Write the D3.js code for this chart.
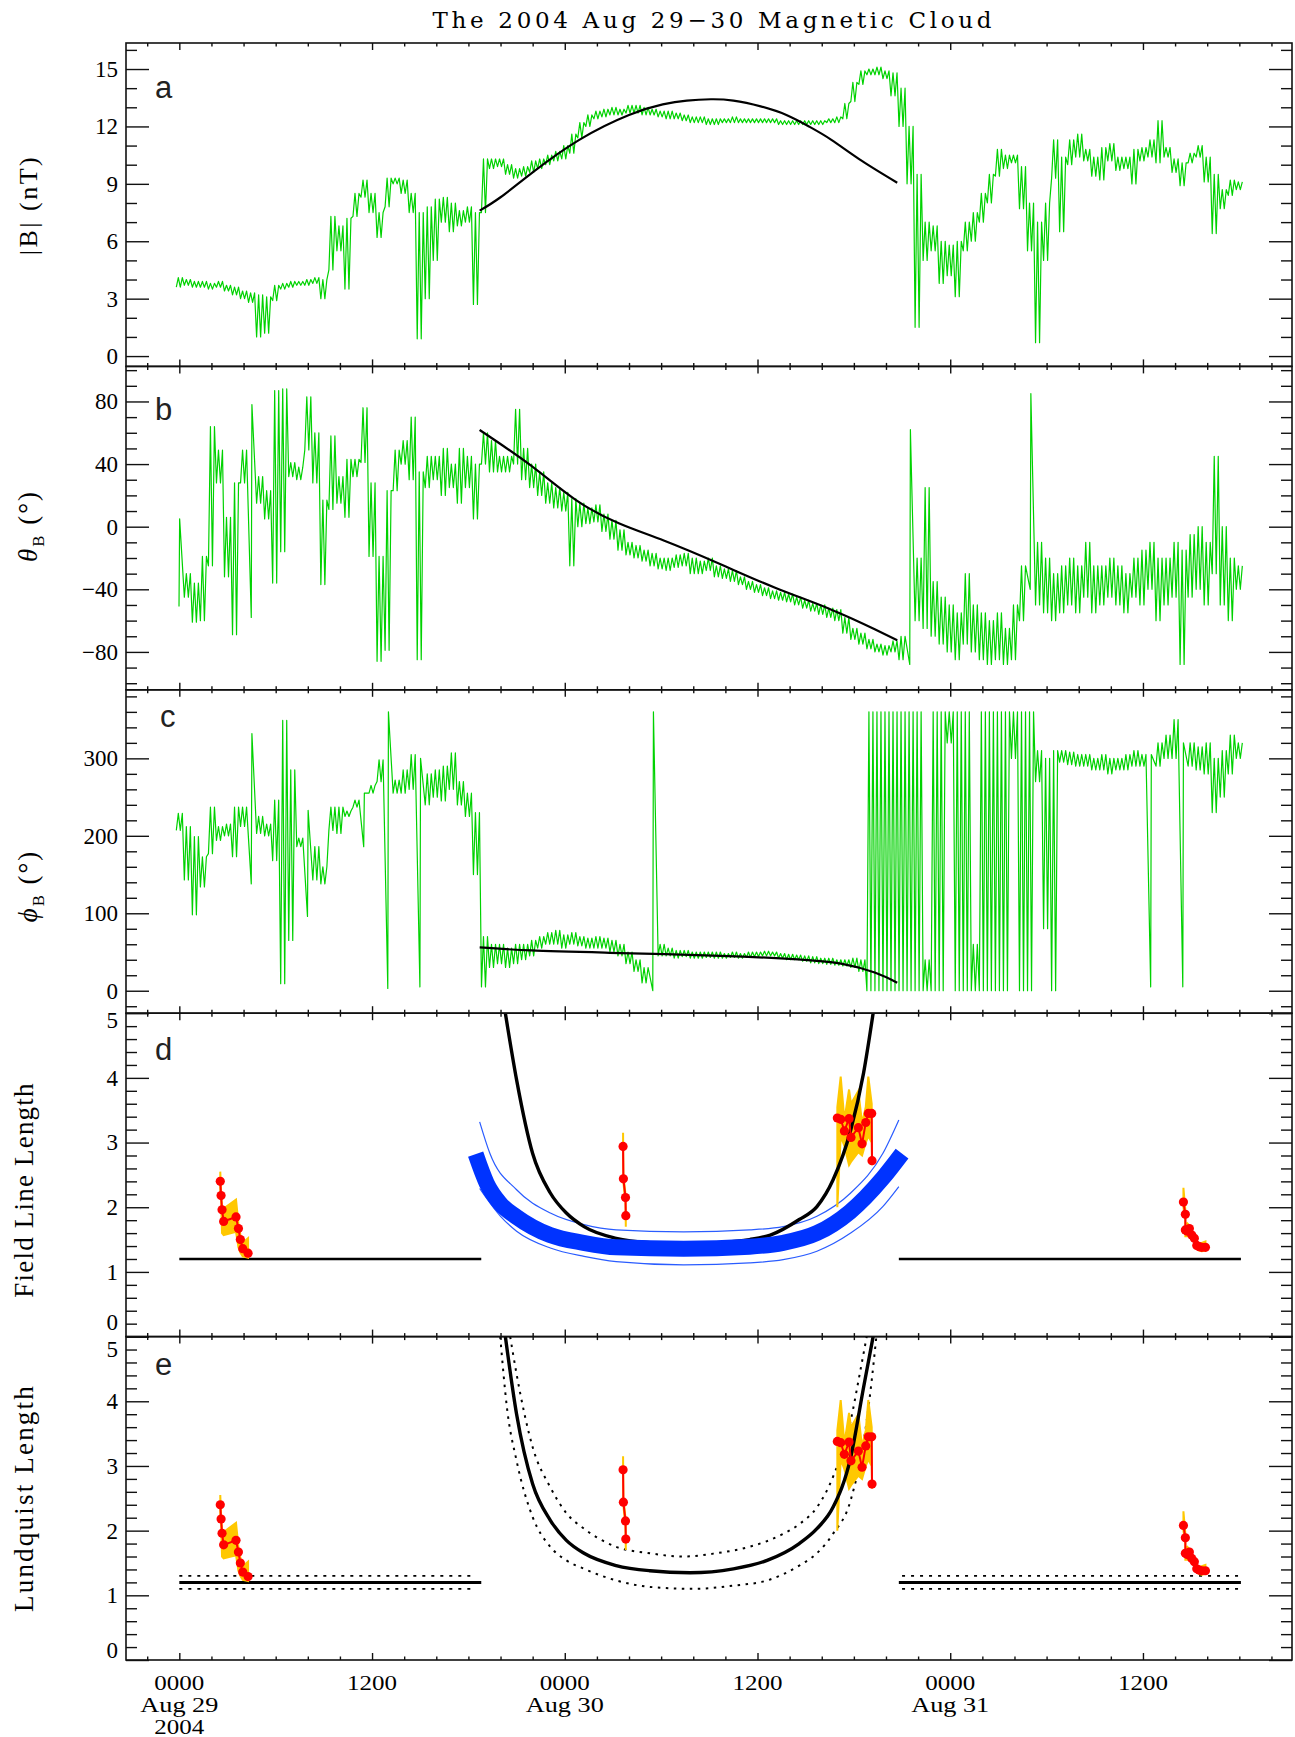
<!DOCTYPE html>
<html><head><meta charset="utf-8">
<script src="https://cdn.jsdelivr.net/npm/d3@7"></script>
<style>body{margin:0;background:#fff}svg{display:block}</style>
</head><body>
<svg id="c" width="1295" height="1737"></svg>
<script>
// ---------------- DATA ----------------
// time axis: hours from 2004 Aug 29 00:00 UT; green traces binned every 0.5 h (min / max in each bin)
const T0 = 0, STEP = 0.5;
const bLo = [3.6,3.7,3.6,3.6,3.5,3.6,3.4,3.2,3.0,2.8,
 1.0,1.2,2.9,3.5,3.6,3.7,3.7,3.8,3.0,4.5,
 5.5,3.5,7.3,8.3,7.5,6.2,7.8,9.0,8.5,7.5,
 0.9,3.0,5.0,7.0,6.5,6.8,7.0,2.7,7.5,9.8,
 9.9,9.5,9.3,9.4,9.6,9.8,10.0,10.2,10.3,10.6,
 11.4,12.0,12.4,12.5,12.6,12.6,12.7,12.7,12.6,12.6,
 12.5,12.4,12.4,12.3,12.2,12.2,12.1,12.1,12.2,12.2,
 12.2,12.2,12.2,12.2,12.2,12.1,12.1,12.1,12.1,12.1,
 12.1,12.2,12.2,12.4,13.3,14.2,14.7,14.7,14.5,13.6,
 12.0,9.0,1.5,5.0,5.5,3.8,4.2,3.1,5.5,6.0,
 7.0,8.0,9.4,9.8,10.1,7.7,5.5,0.7,5.0,9.3,
 6.5,10.0,10.4,10.2,9.4,9.2,10.2,9.7,9.8,9.0,
 10.2,10.4,10.1,10.4,9.6,8.9,10.1,10.4,9.1,6.4,
 7.7,8.4,8.7];
const bHi = [4.1,4.0,3.9,3.9,3.8,3.9,3.7,3.6,3.4,3.3,
 3.2,3.1,3.7,3.8,3.9,3.9,4.0,4.1,4.0,7.3,
 6.8,7.2,8.5,9.2,8.5,7.5,9.3,9.3,9.2,8.5,
 7.5,7.8,8.2,8.3,8.0,7.6,7.8,7.5,10.3,10.3,
 10.3,10.0,9.8,9.9,10.2,10.3,10.5,10.7,11.0,11.6,
 12.2,12.6,12.8,12.9,13.0,12.9,13.1,13.1,13.0,12.9,
 12.8,12.8,12.7,12.6,12.5,12.5,12.4,12.4,12.4,12.5,
 12.4,12.4,12.4,12.4,12.4,12.3,12.3,12.3,12.3,12.3,
 12.3,12.4,12.5,13.2,14.3,14.9,15.0,15.1,14.9,14.8,
 14.0,12.0,9.5,7.0,6.8,6.0,5.8,6.0,7.0,7.5,
 8.5,9.5,10.8,10.5,10.5,9.9,8.0,7.0,8.0,11.3,
 10.4,11.3,11.6,10.8,10.4,10.9,11.1,10.4,10.4,10.8,
 10.9,11.3,12.3,10.9,10.3,10.1,10.6,11.0,10.4,9.5,
 8.7,9.2,9.1];
const thLo = [-51,-45,-61,-60,-25,28,-32,-69,28,-58,
 15,5,-36,-16,32,30,49,28,-37,11,
 15,6,32,41,-19,-86,-79,23,40,30,
 -85,25,30,20,25,15,25,5,40,35,
 35,35,40,30,25,20,15,12,10,-25,
 0,2,3,-3,-8,-15,-18,-20,-22,-25,
 -27,-28,-26,-25,-30,-30,-28,-32,-33,-35,
 -37,-40,-42,-44,-46,-47,-48,-50,-52,-54,
 -56,-58,-60,-68,-72,-75,-78,-80,-82,-80,
 -85,-88,-60,-65,-70,-75,-80,-85,-75,-80,
 -85,-88,-85,-88,-85,-60,-40,-50,-55,-60,
 -55,-50,-55,-45,-55,-50,-45,-50,-55,-45,
 -50,-40,-60,-50,-45,-88,-45,-40,-50,-30,
 -50,-60,-40];
const thHi = [5,-30,-36,-19,64,49,6,28,49,78,
 32,23,87,88,41,38,83,60,17,58,
 32,43,43,76,28,-19,23,49,55,70,
 35,45,45,50,40,50,45,40,60,55,
 45,45,75,50,40,35,28,25,22,18,
 15,12,14,8,4,-2,-10,-12,-15,-17,
 -20,-20,-18,-17,-20,-22,-20,-25,-27,-28,
 -32,-35,-37,-39,-41,-42,-43,-45,-47,-49,
 -50,-52,-53,-58,-65,-68,-72,-75,-76,-73,
 -70,62,-20,25,-35,-45,-50,-55,-30,-50,
 -55,-60,-55,-65,-50,-25,85,-10,-20,-30,
 -25,-20,-25,-10,-25,-25,-20,-25,-30,-20,
 -15,-10,-20,-20,-10,-15,-5,0,-10,45,
 0,-20,-25];
const phLo = [207,143,98,134,177,194,200,173,212,138,
 203,200,168,9,65,186,96,143,138,207,
 203,225,237,186,255,270,3,255,255,260,
 5,240,250,245,260,240,225,150,5,30,
 35,30,35,40,45,55,60,60,55,60,
 58,55,55,55,50,45,35,25,10,0,
 45,45,42,44,42,42,43,42,42,43,
 42,43,44,45,45,42,40,40,38,36,
 35,34,33,32,30,25,0,0,0,0,
 0,0,0,0,0,0,320,0,0,0,
 0,0,0,0,300,0,0,270,80,0,
 295,292,290,290,285,285,280,285,285,290,
 290,5,290,300,300,5,290,285,280,230,
 250,280,300];
const phHi = [229,212,199,173,237,212,215,237,237,332,
 225,215,246,349,285,197,233,186,160,237,
 237,232,246,255,265,298,360,272,285,305,
 300,280,285,290,307,270,255,230,70,60,
 60,55,60,60,65,70,75,78,72,75,
 70,68,70,68,65,60,50,40,30,360,
 60,55,52,52,50,50,50,50,48,50,
 48,50,50,51,50,48,47,46,45,44,
 42,42,40,40,42,40,360,360,360,360,
 360,360,360,40,360,360,360,360,360,60,
 360,360,360,360,360,360,360,310,300,310,
 310,308,305,305,300,305,300,300,305,310,
 305,305,320,330,350,320,320,315,320,300,
 310,330,320];

// model fits inside the magnetic cloud
const fitBT = [18.7,20.0,22.0,24.9,28.0,30.1,31.6,33.1,34.5,36.2,37.8,39.2,40.6,42.5,44.7];
const fitBV = [7.6,8.3,9.6,11.3,12.6,13.15,13.35,13.42,13.35,13.05,12.6,12.0,11.3,10.2,9.06];
const fitThT = [18.7,21.9,24.7,27.4,30.2,33.7,37.1,40.6,43.3,44.7];
const fitThV = [61.8,39,17,2,-9,-24,-39,-53,-65.5,-72.6];
const fitPhT = [18.7,21.9,26.8,33.7,38.5,41.2,43.3,44.7];
const fitPhV = [56,52,49,45,40.6,35,23.5,10.4];

// field line length model (panel d)
const dCurveT = [20.3,21.0,22.0,23.1,24.1,25.2,27.2,29.3,31.5,33.5,35.5,36.8,38.6,39.7,40.7,41.8,42.6,43.2];
const dCurveV = [5.0,3.97,2.83,2.22,1.91,1.70,1.52,1.45,1.43,1.45,1.50,1.57,1.81,2.01,2.42,3.19,4.07,5.0];
const bandT = [18.45,19.14,19.97,21.0,23.08,25.16,27.2,31.4,35.5,37.6,39.7,41.76,43.8,45.0];
const bandV = [2.82,2.37,2.06,1.85,1.57,1.45,1.38,1.36,1.39,1.45,1.60,1.93,2.45,2.83];
const bandUpT = [18.7,19.34,21.0,23.1,25.2,27.2,31.4,35.5,37.6,39.7,41.8,43.8,44.8];
const bandUpV = [3.32,2.83,2.27,1.91,1.73,1.65,1.62,1.65,1.70,1.86,2.22,2.83,3.35];
const bandLoT = [18.7,20.0,21.0,23.1,25.2,27.2,31.4,35.5,37.6,39.7,41.8,43.8,44.8];
const bandLoV = [2.29,1.86,1.63,1.37,1.24,1.16,1.11,1.14,1.19,1.32,1.60,2.01,2.32];

// Lundquist length model (panel e)
const eCurveT = [20.3,21.0,22.0,23.1,24.1,25.2,27.2,29.3,31.8,34.5,36.6,38.6,39.7,40.7,41.8,42.6,43.2];
const eCurveV = [5.0,3.80,2.72,2.16,1.85,1.65,1.46,1.38,1.35,1.41,1.54,1.80,2.03,2.36,3.13,4.21,5.0];
const eInT = [20.6,21.0,22.0,23.1,24.1,25.2,27.2,29.3,31.4,33.4,35.5,37.6,38.6,39.7,40.7,41.8,42.4,42.8];
const eInV = [5.0,4.42,3.29,2.67,2.27,2.03,1.75,1.65,1.60,1.65,1.75,1.95,2.1,2.36,2.83,3.70,4.47,5.0];
const eOutT = [19.98,20.4,21.0,22.0,23.1,24.1,25.2,27.2,29.3,32.0,34.5,36.6,38.6,39.7,40.7,41.8,42.8,43.1,43.4];
const eOutV = [5.0,3.9,3.08,2.21,1.75,1.54,1.41,1.23,1.13,1.10,1.15,1.23,1.46,1.65,1.95,2.47,3.70,4.3,5.0];

// flat reference levels outside the cloud
const flatSegs = [[0,18.8],[44.8,66.1]];
const flatDotSegs = [[0,18.4],[45.0,66.0]];
const flatLevel = 1.2, flatUp = 1.3, flatDn = 1.1;

// measured lengths (red points) with uncertainty band (orange)
const clusters = [
 {t:[2.55,2.60,2.66,2.76,3.53,3.68,3.80,3.95,4.28],
  v:[2.40,2.18,1.96,1.78,1.85,1.67,1.50,1.36,1.29],
  up:[2.55,2.25,2.0,1.98,2.12,1.75,1.58,1.45,1.52],
  lo:[2.25,2.10,1.6,1.57,1.62,1.38,1.30,1.24,1.22]},
 {t:[27.63,27.65,27.78,27.80],
  v:[2.94,2.44,2.15,1.87],
  up:[3.15,2.5,2.2,1.92],
  lo:[2.85,2.38,2.08,1.70]},
 {t:[40.97,41.18,41.41,41.70,41.82,42.28,42.51,42.74,42.90,43.11,43.13],
  v:[3.38,3.36,3.18,3.37,3.08,3.23,2.98,3.31,3.45,3.45,2.72],
  up:[3.55,4.02,3.35,3.82,3.6,3.8,3.3,3.55,4.02,3.6,2.8],
  lo:[2.0,3.1,2.95,2.65,2.7,2.85,2.8,3.0,3.1,3.0,2.65]},
 {t:[62.52,62.64,62.64,62.76,62.89,63.04,63.2,63.35,63.5,63.66,63.89],
  v:[2.08,1.89,1.65,1.63,1.67,1.57,1.52,1.41,1.39,1.38,1.38],
  up:[2.3,1.95,1.7,1.75,1.72,1.62,1.57,1.46,1.43,1.45,1.47],
  lo:[2.0,1.8,1.55,1.55,1.6,1.5,1.47,1.36,1.33,1.32,1.33]}
];

// ticks
const xMajor = [0,12,24,36,48,60];
const xMinorStep = 2;
const xLab1 = ["0000","1200","0000","1200","0000","1200"];
const xLab2 = ["Aug 29","","Aug 30","","Aug 31",""];
const xLab3 = ["2004","","","","",""];
const aTicks = [0,3,6,9,12,15];
const bTicks = [-80,-40,0,40,80];
const cTicks = [0,100,200,300];
const dTicks = [0,1,2,3,4,5];
const eTicks = [0,1,2,3,4,5];

// ---------------- DRAWING ----------------
const SERIF = "'Liberation Serif','DejaVu Serif',serif";
const SANS = "'Liberation Sans',Arial,sans-serif";
const GREEN = "#00d200";
const svg = d3.select('#c');
const L = 126, R = 1292;
const x = d3.scaleLinear().domain([-3.32, 69.28]).range([L, R]);

const panels = [
 {id:'a', top:43, bot:366.4, dom:[-0.54,16.36], ticks:aTicks, minor:1, lx:155, ly:97.7, dTop:'0.62em', dBot:'-0.12em'},
 {id:'b', top:366.4, bot:689.8, dom:[-104.2,102.4], ticks:bTicks, minor:10, lx:155, ly:420, dTop:'0.62em', dBot:'-0.12em'},
 {id:'c', top:689.8, bot:1013.2, dom:[-29,388.5], ticks:cTicks, minor:20, lx:160, ly:726.7, dTop:'0.62em', dBot:'-0.12em'},
 {id:'d', top:1013.2, bot:1336.6, dom:[0,5], ticks:dTicks, minor:0.2, lx:155, ly:1060, dTop:'0.62em', dBot:'-0.32em'},
 {id:'e', top:1336.6, bot:1660, dom:[0,5], ticks:eTicks, minor:0.2, lx:155, ly:1375, dTop:'0.86em', dBot:'-0.12em'}
];
const defs = svg.append('defs');
panels.forEach(p => {
  p.y = d3.scaleLinear().domain(p.dom).range([p.bot, p.top]);
  defs.append('clipPath').attr('id','clip'+p.id).append('rect')
    .attr('x',L).attr('y',p.top).attr('width',R-L).attr('height',p.bot-p.top);
  p.g = svg.append('g').attr('clip-path',`url(#clip${p.id})`);
});
const P = Object.fromEntries(panels.map(p=>[p.id,p]));

// min/max envelope of each bin drawn as a scribble between the bin's low and high value;
// isolated spikes (range much larger than both neighbours) are drawn as a single thin stroke
function noisy(p, lo, hi) {
  const pts = [];
  const span = p.dom[1]-p.dom[0];
  const rg = lo.map((l,i)=>hi[i]-l);
  lo.forEach((l,i) => {
    const t = T0 + i*STEP;
    const nb = Math.max(rg[i-1]||0, rg[i+1]||0);
    if (rg[i] > 3*nb && rg[i] > 0.15*span) {
      pts.push([t-0.02, l],[t+0.02, hi[i]]);
    } else {
      pts.push([t-0.1875, l],[t-0.0625, hi[i]],[t+0.0625, l],[t+0.1875, hi[i]]);
    }
  });
  p.g.append('path').attr('d', d3.line().x(d=>x(d[0])).y(d=>p.y(d[1]))(pts))
    .attr('fill','none').attr('stroke',GREEN).attr('stroke-width',1.2).attr('stroke-linejoin','round');
}
function curve(p, T, V, opts) {
  const pts = T.map((t,i)=>[t,V[i]]);
  return p.g.append('path')
    .attr('d', d3.line().curve(opts.curve||d3.curveMonotoneX).x(d=>x(d[0])).y(d=>p.y(d[1]))(pts))
    .attr('fill','none').attr('stroke',opts.color||'#000').attr('stroke-width',opts.w||2)
    .attr('stroke-dasharray',opts.dash||null).attr('stroke-linecap',opts.cap||'butt');
}
function flats(p, segs, v, opts) {
  segs.forEach(s => p.g.append('line').attr('x1',x(s[0])).attr('x2',x(s[1]))
    .attr('y1',p.y(v)).attr('y2',p.y(v)).attr('stroke','#000')
    .attr('stroke-width',opts.w).attr('stroke-dasharray',opts.dash||null));
}
function drawClusters(p, layer) {
  clusters.forEach(c => {
    const pts = c.t.map((t,i)=>[t,c.up[i]]).concat(c.t.map((t,i)=>[t,c.lo[i]]).reverse());
    if (layer==='band') {
      p.g.append('path').attr('d', d3.line().x(d=>x(d[0])).y(d=>p.y(d[1]))(pts)+'Z')
        .attr('fill','#ffc800').attr('stroke','#ffc800').attr('stroke-width',2).attr('stroke-linejoin','miter');
    } else {
      p.g.append('path').attr('d', d3.line().x((t)=>x(t)).y((t,i)=>p.y(c.v[i]))(c.t))
        .attr('fill','none').attr('stroke','#ff0000').attr('stroke-width',2);
      p.g.selectAll(null).data(c.t).enter().append('circle')
        .attr('cx',t=>x(t)).attr('cy',(t,i)=>p.y(c.v[i])).attr('r',4.6).attr('fill','#ff0000');
    }
  });
}

// panel a-c traces
noisy(P.a, bLo, bHi); curve(P.a, fitBT, fitBV, {w:2.2, curve:d3.curveNatural});
noisy(P.b, thLo, thHi); curve(P.b, fitThT, fitThV, {w:2.2, curve:d3.curveNatural});
noisy(P.c, phLo, phHi); curve(P.c, fitPhT, fitPhV, {w:2.2, curve:d3.curveNatural});

// panel d
flats(P.d, flatSegs, flatLevel, {w:2.6});
curve(P.d, bandUpT, bandUpV, {color:'#2a5cff', w:1.2});
curve(P.d, bandLoT, bandLoV, {color:'#2a5cff', w:1.2});
drawClusters(P.d,'band');
curve(P.d, dCurveT, dCurveV, {w:3.4});
curve(P.d, bandT, bandV, {color:'#0033ff', w:16});
drawClusters(P.d,'pts');

// panel e
flats(P.e, flatSegs, flatLevel, {w:3});
flats(P.e, flatDotSegs, flatUp, {w:1.6, dash:'3,6'});
flats(P.e, flatDotSegs, flatDn, {w:1.6, dash:'3,6'});
curve(P.e, eInT, eInV, {w:2, dash:'2.5,5.5'});
curve(P.e, eOutT, eOutV, {w:2, dash:'2.5,5.5'});
drawClusters(P.e,'band');
curve(P.e, eCurveT, eCurveV, {w:3.4});
drawClusters(P.e,'pts');

// axes, frames
function rangeStep(a,b,s){ const out=[]; for(let v=Math.ceil(a/s-1e-6)*s; v<=b+1e-9; v+=s) out.push(+v.toFixed(6)); return out; }
const xMinor = rangeStep(-3.32, 69.28, xMinorStep).filter(v=>!xMajor.includes(v));
panels.forEach(p => {
  const ax = svg.append('g');
  const minorY = rangeStep(p.dom[0], p.dom[1], p.minor).filter(v=>!p.ticks.some(t=>Math.abs(t-v)<1e-6));
  const style = g => { g.select('.domain').remove(); g.selectAll('line').attr('stroke','#111').attr('stroke-width',1.4); };
  ax.append('g').attr('transform',`translate(${L},0)`)
    .call(d3.axisLeft(p.y).tickValues(minorY).tickSize(-11).tickFormat('')).call(style);
  const maj = ax.append('g').attr('transform',`translate(${L},0)`)
    .call(d3.axisLeft(p.y).tickValues(p.ticks).tickSize(-23).tickPadding(8).tickFormat(d3.format('d'))).call(style);
  maj.attr('font-family',null).attr('font-size',null);
  maj.selectAll('text').attr('font-family',SERIF).attr('font-size',23).attr('fill','#000')
    .attr('dy', d => d===p.dom[1] ? p.dTop : (d===p.dom[0] ? p.dBot : '0.32em'));
  ax.append('g').attr('transform',`translate(${R},0)`)
    .call(d3.axisRight(p.y).tickValues(minorY).tickSize(-11).tickFormat('')).call(style);
  ax.append('g').attr('transform',`translate(${R},0)`)
    .call(d3.axisRight(p.y).tickValues(p.ticks).tickSize(-23).tickFormat('')).call(style);
  ax.append('g').attr('transform',`translate(0,${p.bot})`)
    .call(d3.axisBottom(x).tickValues(xMinor).tickSize(-3.5).tickFormat('')).call(style);
  ax.append('g').attr('transform',`translate(0,${p.bot})`)
    .call(d3.axisBottom(x).tickValues(xMajor).tickSize(-7).tickFormat('')).call(style);
  ax.append('g').attr('transform',`translate(0,${p.top})`)
    .call(d3.axisTop(x).tickValues(xMinor).tickSize(-3.5).tickFormat('')).call(style);
  ax.append('g').attr('transform',`translate(0,${p.top})`)
    .call(d3.axisTop(x).tickValues(xMajor).tickSize(-7).tickFormat('')).call(style);
  svg.append('rect').attr('x',L).attr('y',p.top).attr('width',R-L).attr('height',p.bot-p.top)
    .attr('fill','none').attr('stroke','#111').attr('stroke-width',1.6);
  svg.append('text').attr('x',p.lx).attr('y',p.ly).attr('font-family',SANS).attr('font-size',31)
    .attr('fill','#222').text(p.id);
});

// bottom time labels
xMajor.forEach((t,i) => {
  [[xLab1[i],1690,50],[xLab2[i],1712,78],[xLab3[i],1734,50]].forEach(([s,yy,w]) => {
    if (!s) return;
    svg.append('text').attr('x',x(t)).attr('y',yy).attr('text-anchor','middle')
      .attr('font-family',SERIF).attr('font-size',20).attr('textLength',w)
      .attr('lengthAdjust','spacingAndGlyphs').attr('fill','#000').text(s);
  });
});

// title
svg.append('text').attr('x',712).attr('y',28).attr('text-anchor','middle')
  .attr('font-family',"'DejaVu Serif','Liberation Serif',serif").attr('font-size',23)
  .attr('textLength',559).attr('lengthAdjust','spacing')
  .attr('fill','#000').text('The 2004 Aug 29\u221230 Magnetic Cloud');

// y-axis titles
function yTitle(cx, cy, parts, fs, ls) {
  const t = svg.append('text').attr('transform',`translate(${cx},${cy}) rotate(-90)`)
    .attr('text-anchor','middle').attr('font-family',SERIF).attr('font-size',fs)
    .attr('letter-spacing',ls||0).attr('fill','#000');
  parts.forEach(pt => {
    const s = t.append('tspan').text(pt.s);
    if (pt.it) s.attr('font-style','italic');
    if (pt.sub) s.attr('font-size',fs*0.62).attr('dy',fs*0.25);
    if (pt.back) s.attr('dy',-fs*0.25);
  });
}
yTitle(37, 205, [{s:'|B| (nT)'}], 26, 2.5);
yTitle(37, 526, [{s:'\u03B8',it:true},{s:'B',sub:true},{s:' (\u00B0)',back:true}], 27, 2);
yTitle(37, 886, [{s:'\u03D5',it:true},{s:'B',sub:true},{s:' (\u00B0)',back:true}], 27, 2);
yTitle(33, 1190, [{s:'Field Line Length'}], 27, 1.2);
yTitle(33, 1498, [{s:'Lundquist Length'}], 27, 2.2);
</script>
</body></html>
